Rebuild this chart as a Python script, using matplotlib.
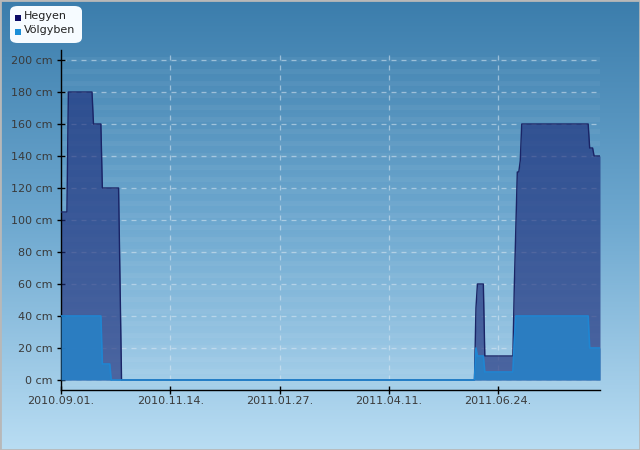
import numpy as np
import pandas as pd
import matplotlib
matplotlib.use("Agg")
import matplotlib.pyplot as plt
import matplotlib.dates as mdates
from matplotlib.colors import LinearSegmentedColormap
from matplotlib.patches import FancyBboxPatch, Rectangle

# data (snow depth, cm) - breakpoints
hegyen_dates = ["2010-09-01", "2010-09-05", "2010-09-06", "2010-09-22", "2010-09-23",
                "2010-09-28", "2010-09-29", "2010-10-10", "2010-10-11", "2010-10-12",
                "2011-06-08", "2011-06-09", "2011-06-10", "2011-06-14", "2011-06-15",
                "2011-07-04", "2011-07-05", "2011-07-06", "2011-07-07", "2011-07-08",
                "2011-07-09", "2011-07-10", "2011-08-24", "2011-08-25", "2011-08-27",
                "2011-08-28", "2011-09-01"]
hegyen_values = [105, 105, 180, 180, 160, 160, 120, 120, 60, 0,
                 0, 45, 60, 60, 15, 15, 60, 95, 130, 130,
                 137, 160, 160, 145, 145, 140, 140]

volgyben_dates = ["2010-09-01", "2010-09-28", "2010-09-29", "2010-10-04", "2010-10-05",
                  "2011-06-08", "2011-06-09", "2011-06-10", "2011-06-14", "2011-06-15",
                  "2011-07-04", "2011-07-05", "2011-07-06", "2011-08-24", "2011-08-25",
                  "2011-09-01"]
volgyben_values = [40, 40, 10, 10, 0,
                   0, 20, 15, 15, 5,
                   5, 25, 40, 40, 20,
                   20]

tick_dates = ["2010-09-01", "2010-11-14", "2011-01-27", "2011-04-11", "2011-06-24"]
y_ticks = [0, 20, 40, 60, 80, 100, 120, 140, 160, 180, 200]

h_x = pd.to_datetime(hegyen_dates)
h_y = np.array(hegyen_values)
v_x = pd.to_datetime(volgyben_dates)
v_y = np.array(volgyben_values)

fig = plt.figure(figsize=(6.4, 4.5), dpi=100)

# gradient background
bg = fig.add_axes([0, 0, 1, 1], zorder=-10)
cmap = LinearSegmentedColormap.from_list("bg", ["#3b7dac", "#6fa9d0", "#b9ddf3"])
bg.imshow(np.linspace(0, 1, 256).reshape(-1, 1), aspect="auto", cmap=cmap,
          extent=[0, 1, 0, 1])
bg.set_axis_off()
bg.add_patch(Rectangle((0, 0), 1, 1, transform=bg.transAxes, fill=False,
                       edgecolor="#b8b8b8", linewidth=2))

ax = fig.add_axes([61 / 640, 1 - 390 / 450, (600 - 61) / 640, 340 / 450])
ax.patch.set_alpha(0)

# horizontal stripes in plot area
y0, y1 = -6.25, 206.25
ax.set_ylim(y0, y1)
s = 206.25
while s > 0:
    ax.axhspan(s - 7.5, s - 4.4, color="white", alpha=0.045, lw=0, zorder=0)
    s -= 7.5

for t in y_ticks:
    ax.axhline(t, color="#dde9f3", lw=0.9, ls=(0, (4, 4)), alpha=0.55, zorder=1)
for d in pd.to_datetime(tick_dates)[1:]:
    ax.axvline(d, color="#dde9f3", lw=0.9, ls=(0, (4, 4)), alpha=0.55, zorder=1)

ax.fill_between(h_x, 0, h_y, color="#1c2d7a", alpha=0.65, lw=0, zorder=2)
ax.plot(h_x, h_y, color="#1a2466", lw=1.0, zorder=3)
ax.fill_between(v_x, 0, v_y, color="#2a7fc4", alpha=0.95, lw=0, zorder=4)
ax.plot(v_x, v_y, color="#1f86d2", lw=1.2, zorder=5)

ax.set_xlim(pd.Timestamp("2010-09-01"), pd.Timestamp("2011-09-01"))
ax.set_xticks(pd.to_datetime(tick_dates))
ax.xaxis.set_major_formatter(mdates.DateFormatter("%Y.%m.%d."))
ax.set_yticks(y_ticks)
ax.set_yticklabels([f"{v} cm" for v in y_ticks])

for side in ["top", "right"]:
    ax.spines[side].set_visible(False)
for side in ["left", "bottom"]:
    ax.spines[side].set_color("black")
    ax.spines[side].set_linewidth(1.0)
ax.tick_params(axis="both", direction="inout", length=6, width=1, colors="black",
               labelcolor="#3a3a3a", labelsize=8)
ax.tick_params(axis="x", pad=1)
ax.tick_params(axis="y", pad=3)
for lbl in ax.get_xticklabels():
    lbl.set_horizontalalignment("center")

# legend box
leg = FancyBboxPatch((10 / 640, 1 - 43 / 450), 72 / 640, 37 / 450,
                     boxstyle="round,pad=0.0,rounding_size=0.012",
                     transform=fig.transFigure, facecolor="#f6fbff",
                     edgecolor="none", zorder=20)
fig.add_artist(leg)
fig.add_artist(Rectangle((15 / 640, 1 - 21 / 450), 6 / 640, 6 / 450,
                         transform=fig.transFigure, facecolor="#0b0b66",
                         edgecolor="none", zorder=21))
fig.add_artist(Rectangle((15 / 640, 1 - 35 / 450), 6 / 640, 6 / 450,
                         transform=fig.transFigure, facecolor="#1c8fd8",
                         edgecolor="none", zorder=21))
fig.text(24 / 640, 1 - 16 / 450, "Hegyen", fontsize=8, color="#222222",
         va="center", zorder=22)
fig.text(24 / 640, 1 - 30 / 450, "Völgyben", fontsize=8, color="#222222",
         va="center", zorder=22)

fig.savefig("out.png", dpi=100)
